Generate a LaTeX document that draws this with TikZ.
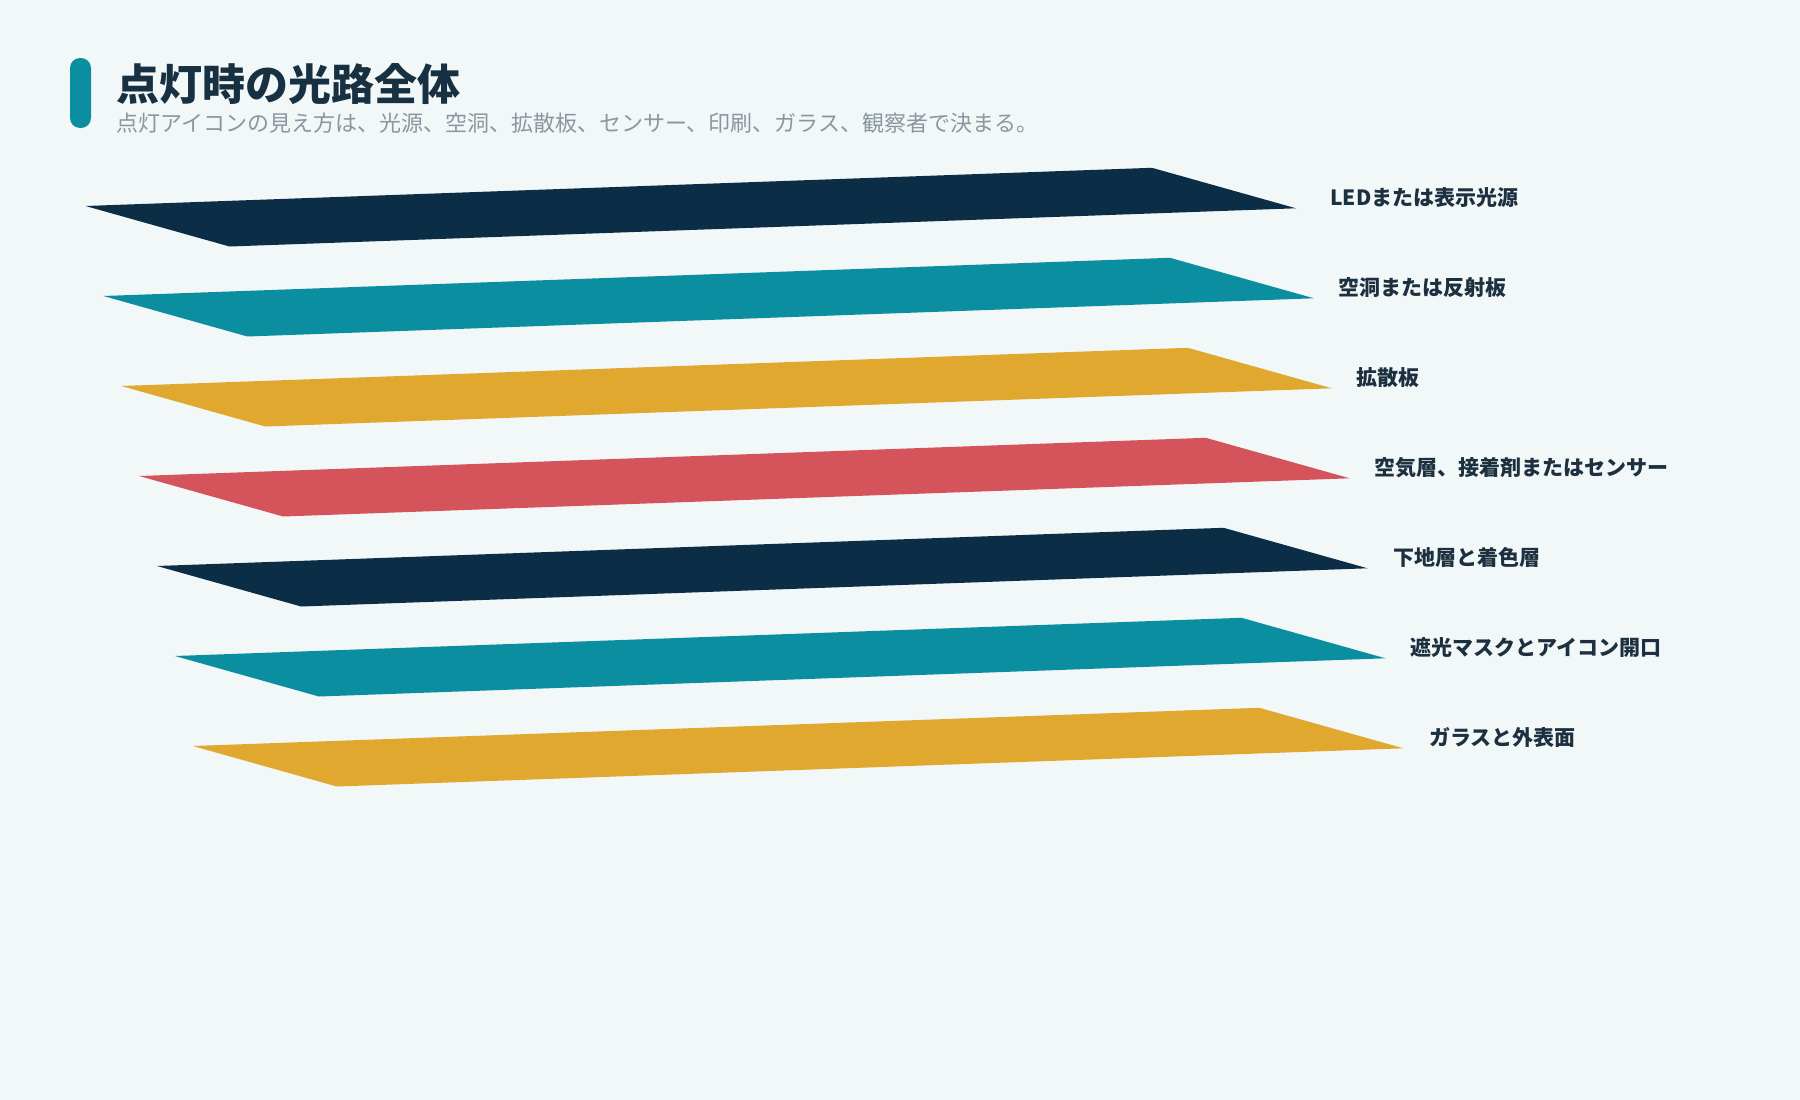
\documentclass[tikz,border=0pt]{standalone}
\usepackage{fontspec}
\newfontfamily\jp{Noto Sans CJK JP}
\definecolor{bg}{HTML}{F2F7F8}
\definecolor{navy}{HTML}{0B2D45}
\definecolor{tealc}{HTML}{0C8EA1}
\definecolor{gold}{HTML}{E0A82E}
\definecolor{redc}{HTML}{D5535A}
\definecolor{titlec}{HTML}{173042}
\definecolor{subc}{HTML}{8B979F}
\definecolor{labelc}{HTML}{1C3040}
\tikzset{
  lbl/.style={anchor=base west, inner sep=0pt, text=labelc, font=\jp\bfseries\fontsize{21}{25}\selectfont},
  layerfill/.style={fill=#1, draw=none}
}
\begin{document}
\begin{tikzpicture}[x=1pt,y=-1pt]
\fill[bg] (0,0) rectangle (1800,1100);
\useasboundingbox (0,0) rectangle (1800,1100);
\fill[tealc, rounded corners=10pt] (70,58) rectangle (91,128);
\node[anchor=base west, inner sep=0pt, text=titlec, font=\jp\bfseries\fontsize{43}{48}\selectfont] (title) at (116,100) {点灯時の光路全体};
\node[anchor=base west, inner sep=0pt, text=subc, font=\jp\fontsize{22}{26}\selectfont] (sub) at (116,131.5) {点灯アイコンの見え方は、光源、空洞、拡散板、センサー、印刷、ガラス、観察者で決まる。};
\foreach \i/\c in {0/navy,1/tealc,2/gold,3/redc,4/navy,5/tealc,6/gold}{
  \fill[layerfill=\c] ({85.5+17.9*\i},{206+90*\i}) -- ++(144,40.5) -- ++(1066.5,-38.2) -- ++(-144,-40.5) -- cycle;
}
\node[lbl] (l1) at (1330,205.7) {LEDまたは表示光源};
\node[lbl] (l2) at (1338,295.7) {空洞または反射板};
\node[lbl] (l3) at (1356,385.7) {拡散板};
\node[lbl] (l4) at (1374,475.7) {空気層、接着剤またはセンサー};
\node[lbl] (l5) at (1393,565.7) {下地層と着色層};
\node[lbl] (l6) at (1410,655.7) {遮光マスクとアイコン開口};
\node[lbl] (l7) at (1429,745.7) {ガラスと外表面};
\end{tikzpicture}
\end{document}
